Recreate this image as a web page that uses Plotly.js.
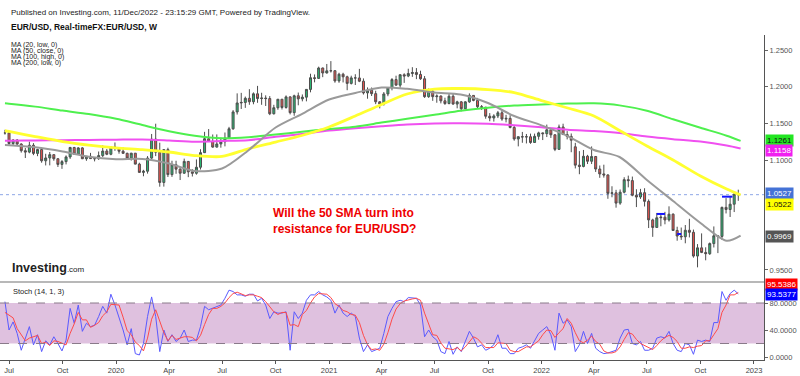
<!DOCTYPE html>
<html>
<head>
<meta charset="utf-8">
<script src="https://cdn.plot.ly/plotly-3.0.1.min.js"></script>
<style>html,body{margin:0;padding:0;background:#fff;}#chart{width:800px;height:376px;}</style>
</head>
<body>
<div id="chart"></div>
<script>
// ---- weekly EUR/USD candles, first week starting 2019-06-24 ----
const firstWeek = '2019-06-24';
const weekCount = 181;

const openP = [1.1370,1.1370,1.1225,1.1271,1.1218,1.1127,1.1108,1.1201,1.1090,1.1143,1.0989,1.1028,1.1073,1.1017,1.0940,1.0978,1.1042,1.1171,1.1080,1.1165,1.1017,1.1050,1.1019,1.1018,1.1060,1.1122,1.1078,1.1177,
1.1166,1.1120,1.1091,1.1025,1.1093,1.0944,1.0831,1.0847,1.1026,1.1284,1.1106,1.0694,1.1141,1.0801,1.0936,1.0875,1.0820,1.0981,1.0839,1.0819,1.0901,1.1100,1.1290,1.1255,1.1176,1.1219,1.1249,1.1300,1.1426,1.1656,1.1778,1.1785,1.1842,1.1795,1.1903,1.1838,1.1845,1.1838,1.1631,1.1713,1.1829,1.1717,1.1861,1.1646,1.1876,1.1834,1.1857,1.1963,1.2122,1.2113,1.2255,1.2187,
1.2216,1.2218,1.2079,1.2170,1.2135,1.2045,1.2120,1.2119,1.2075,1.1915,1.1952,1.1905,1.1794,1.1763,1.1901,1.1983,1.2097,1.2021,1.2163,1.2145,1.2180,1.2193,1.2167,1.2108,1.1864,1.1936,1.1864,1.1873,1.1807,1.1770,1.1870,1.1763,1.1793,1.1699,1.1793,1.1881,1.1813,1.1727,1.1720,1.1597,1.1573,1.1601,1.1644,1.1559,1.1568,1.1444,1.1287,1.1318,1.1315,1.1317,1.1239,1.1323,
1.1370,1.1359,1.1412,1.1344,1.1145,1.1450,1.1347,1.1322,1.1180,1.0930,1.0912,1.1051,1.0983,1.1048,1.0877,1.0810,1.0796,1.0545,1.0552,1.0412,1.0561,1.0732,1.0719,1.0519,1.0495,1.0554,1.0436,1.0183,1.0080,1.0212,1.0220,1.0183,1.0261,1.0039,0.9963,0.9953,1.0042,1.0014,0.9690,0.9802,0.9739,0.9722,0.9860,0.9966,0.9958,1.0354,1.0325,1.0397,1.0535];

const highP = [1.1412,1.1386,1.1286,1.1286,1.1228,1.1164,1.1250,1.1230,1.1153,1.1164,1.1085,1.1109,1.1075,1.1025,1.0999,1.1063,1.1179,1.1179,1.1175,1.1176,1.1052,1.1097,1.1030,1.1116,1.1200,1.1150,1.1188,1.1239,
1.1172,1.1173,1.1100,1.1097,1.1095,1.0963,1.0866,1.1053,1.1355,1.1495,1.1236,1.1147,1.1168,1.0990,1.0990,1.0889,1.1019,1.0985,1.0875,1.1008,1.1147,1.1384,1.1422,1.1348,1.1349,1.1303,1.1375,1.1452,1.1681,1.1909,1.1916,1.1865,1.1966,1.1922,1.2011,1.1917,1.1882,1.1872,1.1753,1.1831,1.1830,1.1881,1.1870,1.1891,1.1920,1.1894,1.1965,1.2177,1.2167,1.2273,1.2260,1.2310,
1.2349,1.2223,1.2190,1.2190,1.2150,1.2150,1.2170,1.2243,1.2113,1.1990,1.1989,1.1945,1.1800,1.1927,1.1994,1.2117,1.2150,1.2171,1.2183,1.2245,1.2266,1.2254,1.2218,1.2145,1.1975,1.1960,1.1895,1.1880,1.1850,1.1909,1.1908,1.1808,1.1805,1.1802,1.1909,1.1884,1.1847,1.1750,1.1725,1.1640,1.1624,1.1669,1.1692,1.1616,1.1612,1.1464,1.1320,1.1383,1.1355,1.1360,1.1360,1.1386,
1.1375,1.1483,1.1428,1.1347,1.1483,1.1495,1.1394,1.1362,1.1234,1.1121,1.1137,1.1070,1.1185,1.1054,1.0925,1.0936,1.0806,1.0642,1.0593,1.0598,1.0765,1.0787,1.0774,1.0601,1.0606,1.0615,1.0462,1.0199,1.0278,1.0254,1.0293,1.0368,1.0272,1.0090,1.0079,1.0113,1.0198,1.0051,0.9853,0.9999,0.9809,0.9875,1.0094,0.9976,1.0364,1.0481,1.0497,1.0545,1.0595];

const lowP = [1.1346,1.1207,1.1201,1.1200,1.1101,1.1027,1.1092,1.1066,1.1052,1.0963,1.0926,1.0927,1.0990,1.0905,1.0879,1.0940,1.1015,1.1072,1.1073,1.1013,1.0989,1.1014,1.0981,1.1002,1.1040,1.1066,1.1065,1.1125,
1.1086,1.1085,1.1019,1.0992,1.0941,1.0827,1.0778,1.0814,1.1015,1.1053,1.0636,1.0637,1.0768,1.0770,1.0812,1.0727,1.0812,1.0766,1.0775,1.0800,1.0870,1.1095,1.1250,1.1168,1.1170,1.1168,1.1186,1.1300,1.1412,1.1620,1.1696,1.1711,1.1753,1.1760,1.1780,1.1753,1.1737,1.1612,1.1620,1.1685,1.1689,1.1700,1.1622,1.1603,1.1746,1.1800,1.1800,1.1923,1.2059,1.2110,1.2130,1.2180,
1.2193,1.2054,1.2053,1.2058,1.1952,1.2030,1.2023,1.2062,1.1893,1.1836,1.1873,1.1762,1.1704,1.1743,1.1870,1.1950,1.2016,1.1986,1.2052,1.2130,1.2134,1.2103,1.2093,1.1847,1.1848,1.1807,1.1781,1.1772,1.1752,1.1760,1.1754,1.1705,1.1664,1.1694,1.1780,1.1801,1.1700,1.1683,1.1563,1.1529,1.1524,1.1572,1.1535,1.1513,1.1432,1.1263,1.1186,1.1235,1.1226,1.1221,1.1234,1.1277,
1.1272,1.1313,1.1301,1.1121,1.1140,1.1341,1.1281,1.1106,1.0885,1.0806,1.0900,1.0945,1.0945,1.0837,1.0757,1.0760,1.0471,1.0492,1.0350,1.0389,1.0545,1.0627,1.0505,1.0358,1.0469,1.0366,1.0072,0.9952,1.0080,1.0096,1.0123,1.0160,1.0033,0.9899,0.9910,0.9864,0.9944,0.9668,0.9536,0.9730,0.9632,0.9705,0.9807,0.9730,0.9910,1.0271,1.0223,1.0290,1.0443];

const closeP = [1.1370,1.1225,1.1271,1.1218,1.1127,1.1108,1.1201,1.1090,1.1143,1.0989,1.1028,1.1073,1.1017,1.0940,1.0978,1.1042,1.1171,1.1080,1.1165,1.1017,1.1050,1.1019,1.1018,1.1060,1.1122,1.1078,1.1177,1.1166,
1.1120,1.1091,1.1025,1.1093,1.0944,1.0831,1.0847,1.1026,1.1284,1.1106,1.0694,1.1141,1.0801,1.0936,1.0875,1.0820,1.0981,1.0839,1.0819,1.0901,1.1100,1.1290,1.1255,1.1176,1.1219,1.1249,1.1300,1.1426,1.1656,1.1778,1.1785,1.1842,1.1795,1.1903,1.1838,1.1845,1.1838,1.1631,1.1713,1.1829,1.1717,1.1861,1.1646,1.1876,1.1834,1.1857,1.1963,1.2122,1.2113,1.2255,1.2187,1.2216,
1.2218,1.2079,1.2170,1.2135,1.2045,1.2120,1.2119,1.2075,1.1915,1.1952,1.1905,1.1794,1.1763,1.1901,1.1983,1.2097,1.2021,1.2163,1.2145,1.2180,1.2193,1.2167,1.2108,1.1864,1.1936,1.1864,1.1873,1.1807,1.1770,1.1870,1.1763,1.1793,1.1699,1.1793,1.1881,1.1813,1.1727,1.1720,1.1597,1.1573,1.1601,1.1644,1.1559,1.1568,1.1444,1.1287,1.1318,1.1315,1.1317,1.1239,1.1323,1.1370,
1.1359,1.1412,1.1344,1.1145,1.1450,1.1347,1.1322,1.1270,1.0930,1.0912,1.1051,1.0983,1.1048,1.0877,1.0810,1.0796,1.0545,1.0552,1.0412,1.0561,1.0732,1.0719,1.0519,1.0495,1.0554,1.0436,1.0183,1.0080,1.0212,1.0220,1.0183,1.0261,1.0039,0.9963,0.9953,1.0042,1.0014,0.9690,0.9802,0.9739,0.9722,0.9860,0.9966,0.9958,1.0354,1.0325,1.0397,1.0535,1.0527];

// ---- moving averages (at sample dates) ----
const maDates = ['2019-06-24','2019-07-01','2019-08-15','2019-10-01','2019-11-15','2020-01-01','2020-02-15','2020-04-01','2020-05-15','2020-07-01','2020-08-15','2020-10-01','2020-11-15','2021-01-01','2021-02-15','2021-04-01','2021-05-15','2021-07-01','2021-08-15','2021-10-01','2021-11-15','2022-01-01','2022-02-15','2022-04-01','2022-05-15','2022-07-01','2022-08-15','2022-10-01','2022-11-15','2022-12-09'];
const ma20Low   = [1.1204,1.1202,1.1173,1.1116,1.1044,1.1011,1.1014,1.0952,1.0850,1.0884,1.1130,1.1443,1.1627,1.1825,1.1914,1.1989,1.1971,1.1920,1.1893,1.1777,1.1600,1.1473,1.1327,1.1136,1.1041,1.0727,1.0441,1.0141,0.9898,0.9969];
const ma50Close = [1.1399,1.1389,1.1320,1.1252,1.1204,1.1166,1.1142,1.1109,1.1061,1.1048,1.1153,1.1245,1.1334,1.1450,1.1600,1.1757,1.1900,1.1968,1.1975,1.1961,1.1920,1.1811,1.1709,1.1600,1.1402,1.1191,1.1000,1.0782,1.0604,1.0522];
const ma100High = [1.1773,1.1768,1.1728,1.1674,1.1627,1.1562,1.1477,1.1393,1.1331,1.1297,1.1311,1.1348,1.1385,1.1423,1.1455,1.1510,1.1563,1.1616,1.1672,1.1714,1.1742,1.1757,1.1769,1.1773,1.1745,1.1671,1.1556,1.1440,1.1331,1.1261];
const ma200Low  = [1.1263,1.1263,1.1266,1.1270,1.1273,1.1277,1.1280,1.1266,1.1250,1.1259,1.1270,1.1316,1.1355,1.1402,1.1434,1.1461,1.1485,1.1498,1.1500,1.1494,1.1474,1.1446,1.1413,1.1395,1.1368,1.1320,1.1284,1.1252,1.1198,1.1158];

// ---- short blue level marks ----
const levelStart = ['2022-07-18','2022-08-22','2022-11-07'];
const levelEnd   = ['2022-08-01','2022-08-29','2022-11-25'];
const levelPrice = [1.0264,0.9991,1.0500];

// ---- Stochastic (14,1,3) ----
const stochK = [82,40,52,35,10,28,45,18,33,8,24,18,30,20,9,25,72,50,77,38,50,45,47,60,75,65,93,77,60,40,18,42,5,3,20,60,89,60,8,40,23,33,23,28,40,23,25,25,45,75,70,72,75,77,87,99,97,92,92,90,93,93,83,87,77,57,67,65,65,67,10,67,57,65,84,92,92,97,92,89,84,65,77,65,60,65,60,28,8,18,8,10,13,35,60,72,82,84,82,88,87,87,77,30,40,30,25,8,5,23,4,15,8,23,38,28,15,18,10,13,18,33,13,13,5,5,13,15,18,13,25,35,40,45,33,10,65,50,55,45,8,18,38,20,35,13,8,5,6,8,10,28,40,41,20,18,23,10,10,13,28,30,28,38,20,10,8,20,18,4,25,23,25,23,51,51,97,84,94,99,93.5377];
const stochD = [66,62,58,42,32,24,28,30,32,20,22,17,24,23,20,18,35,49,66,55,55,44,47,51,61,67,78,78,77,59,39,33,22,17,9,28,56,70,52,36,24,32,26,28,30,30,29,24,32,48,63,72,72,75,80,88,94,96,94,91,92,92,90,88,82,74,67,63,66,66,47,48,45,63,69,80,89,94,94,93,88,79,75,69,67,63,62,51,32,18,11,12,10,19,36,56,71,79,83,85,86,87,84,65,49,33,32,21,13,12,11,14,9,15,23,30,27,20,14,14,14,21,21,20,10,8,8,11,15,15,19,24,33,40,39,29,36,42,57,50,36,24,21,25,31,23,19,9,6,6,8,15,26,36,34,26,20,17,14,11,17,24,29,32,29,23,13,13,15,14,16,17,24,24,33,42,66,77,92,92,95.5386];

// ---- axis ticks ----
const xTickVals = ['2019-07-01','2019-10-01','2020-01-01','2020-04-01','2020-07-01','2020-10-01','2021-01-01','2021-04-01','2021-07-01','2021-10-01','2022-01-01','2022-04-01','2022-07-01','2022-10-01','2023-01-01'];
const xTickText = ['Jul','Oct','2020','Apr','Jul','Oct','2021','Apr','Jul','Oct','2022','Apr','Jul','Oct','2023'];
const priceTicks = [0.95,1.10,1.15,1.20,1.25];
const priceTickText = ['0.9500','1.1000','1.1500','1.2000','1.2500'];
const stochTicks = [0,40,80];
const stochTickText = ['0.0000','40.0000','80.0000'];

// weekly date stamps
const weeks = [];
{
  const t0 = Date.parse(firstWeek + 'T00:00:00Z');
  for (let k = 0; k < weekCount; k++) {
    weeks.push(new Date(t0 + k * 7 * 86400000).toISOString().slice(0, 10));
  }
}

const FONT = 'Liberation Sans, Arial, sans-serif';
const W = 800, H = 376, ML = 0, MR = 36, MT = 35, MB = 16;
const plotH = H - MT - MB;
const py = p => (H - MB - p) / plotH;   // pixel row -> paper y
const px = p => (p - ML) / (W - ML - MR); // pixel col -> paper x

const traces = [];
traces.push({
  type: 'candlestick', x: weeks, open: openP, high: highP, low: lowP, close: closeP,
  xaxis: 'x', yaxis: 'y',
  increasing: {fillcolor: '#2bb673', line: {color: '#4d4d4d', width: 1}},
  decreasing: {fillcolor: '#e8534f', line: {color: '#4d4d4d', width: 1}},
  whiskerwidth: 0, hoverinfo: 'skip'
});
const maStyles = [
  [ma200Low, '#f050f0', 2],
  [ma100High, '#4ef04e', 2],
  [ma50Close, '#ffff30', 2.8],
  [ma20Low, '#9a9a9a', 2]
];
for (const [vals, col, w] of maStyles) {
  traces.push({type: 'scatter', mode: 'lines', x: maDates, y: vals, xaxis: 'x', yaxis: 'y',
    line: {color: col, width: w, shape: 'spline', smoothing: 0.8}, hoverinfo: 'skip'});
}
// level marks
{
  const lx = [], ly = [];
  for (let k = 0; k < levelPrice.length; k++) {
    lx.push(levelStart[k], levelEnd[k], null);
    ly.push(levelPrice[k], levelPrice[k], null);
  }
  traces.push({type: 'scatter', mode: 'lines', x: lx, y: ly, xaxis: 'x', yaxis: 'y',
    line: {color: '#1414ff', width: 2}, hoverinfo: 'skip', connectgaps: false});
}
traces.push({type: 'scatter', mode: 'lines', x: weeks, y: stochK, xaxis: 'x', yaxis: 'y2',
  line: {color: '#5a5aff', width: 1}, hoverinfo: 'skip'});
traces.push({type: 'scatter', mode: 'lines', x: weeks, y: stochD, xaxis: 'x', yaxis: 'y2',
  line: {color: '#ff4a4a', width: 1}, hoverinfo: 'skip'});

const lastClose = closeP[closeP.length - 1];

const shapes = [
  {type: 'rect', xref: 'paper', x0: 0, x1: 1, yref: 'y2', y0: 20, y1: 80, fillcolor: '#dfc1df', line: {width: 0}, layer: 'below'},
  {type: 'line', xref: 'paper', x0: 0, x1: 1, yref: 'y2', y0: 80, y1: 80, line: {color: '#8a7a8a', width: 1, dash: 'dash'}},
  {type: 'line', xref: 'paper', x0: 0, x1: 1, yref: 'y2', y0: 20, y1: 20, line: {color: '#8a7a8a', width: 1, dash: 'dash'}},
  {type: 'line', xref: 'paper', x0: 0, x1: 1, yref: 'y', y0: lastClose, y1: lastClose, line: {color: '#8ea6e6', width: 1, dash: 'dot'}, layer: 'below'},
  {type: 'line', xref: 'paper', x0: 0, x1: 1, yref: 'paper', y0: py(282), y1: py(282), line: {color: '#b8b8b8', width: 2}}
];

function tag(text, yv, yref, bg, fg) {
  return {xref: 'paper', x: 1, xanchor: 'left', xshift: 1, yref: yref, y: yv, yanchor: 'middle',
    text: text, showarrow: false, bgcolor: bg, borderpad: 1,
    font: {family: FONT, size: 8, color: fg}};
}
function label(text, xp, yp, size, color, extra) {
  return Object.assign({xref: 'paper', yref: 'paper', x: px(xp), y: py(yp), xanchor: 'left', yanchor: 'middle',
    text: text, showarrow: false, font: {family: FONT, size: size, color: color}}, extra || {});
}

const annotations = [
  label('Published on Investing.com, 11/Dec/2022 - 23:15:29 GMT, Powered by TradingView.', 9, 13, 8, '#222'),
  label('<b>EUR/USD, Real-timeFX:EUR/USD, W</b>', 9, 27, 8.5, '#111'),
  label('MA (20, low, 0)', 9, 44.5, 7, '#222'),
  label('MA (50, close, 0)', 9, 51, 7, '#222'),
  label('MA (100, high, 0)', 9, 57, 7, '#222'),
  label('MA (200, low, 0)', 9, 63, 7, '#222'),
  label('<b>Investing</b><span style="font-size:8px">.com</span>', 10, 268, 12.5, '#222'),
  label('<b>Will the 50 SMA turn into</b>', 271, 213, 12, '#ee0000'),
  label('<b>resistance for EUR/USD?</b>', 271, 229, 12, '#ee0000'),
  label('Stoch (14, 1, 3)', 11, 291, 7.5, '#222'),
  tag('1.1261', 1.1261, 'y', '#22e622', '#111'),
  tag('1.1158', 1.1123, 'y', '#f020f0', '#fff'),
  tag('1.0527', 1.0537, 'y', '#4472d6', '#fff'),
  tag('1.0522', 1.0390, 'y', '#ffff00', '#111'),
  tag('0.9969', 0.9954, 'y', '#555555', '#fff'),
  tag('95.5386', 106.7, 'y2', '#ff0000', '#fff'),
  tag('93.5377', 91.9, 'y2', '#0000ff', '#fff')
];

const layout = {
  width: W, height: H,
  margin: {l: ML, r: MR, t: MT, b: MB, pad: 0},
  paper_bgcolor: '#ffffff', plot_bgcolor: '#ffffff',
  showlegend: false,
  font: {family: FONT, size: 8, color: '#444'},
  xaxis: {
    type: 'date', range: ['2019-06-15 12:00', '2023-01-18 05:00'],
    anchor: 'y2', rangeslider: {visible: false},
    tickvals: xTickVals, ticktext: xTickText,
    ticks: 'outside', ticklen: 3, tickcolor: '#555',
    tickfont: {family: FONT, size: 7.5, color: '#444'},
    showline: true, linecolor: '#555', linewidth: 1,
    showgrid: false, zeroline: false, fixedrange: true
  },
  yaxis: {
    domain: [py(282), 1], range: [0.9336, 1.2705], side: 'right', anchor: 'x',
    tickvals: priceTicks, ticktext: priceTickText,
    ticks: 'outside', ticklen: 3, tickcolor: '#666',
    tickfont: {family: FONT, size: 7.5, color: '#555'},
    showline: true, linecolor: '#555', linewidth: 1,
    showgrid: false, zeroline: false, fixedrange: true
  },
  yaxis2: {
    domain: [0, py(282)], range: [-4.44, 111.1], side: 'right', anchor: 'x',
    tickvals: stochTicks, ticktext: stochTickText,
    ticks: 'outside', ticklen: 3, tickcolor: '#666',
    tickfont: {family: FONT, size: 7.5, color: '#555'},
    showline: true, linecolor: '#555', linewidth: 1,
    showgrid: false, zeroline: false, fixedrange: true
  },
  shapes: shapes,
  annotations: annotations
};

Plotly.newPlot('chart', traces, layout, {displayModeBar: false, staticPlot: true});
</script>
</body>
</html>
